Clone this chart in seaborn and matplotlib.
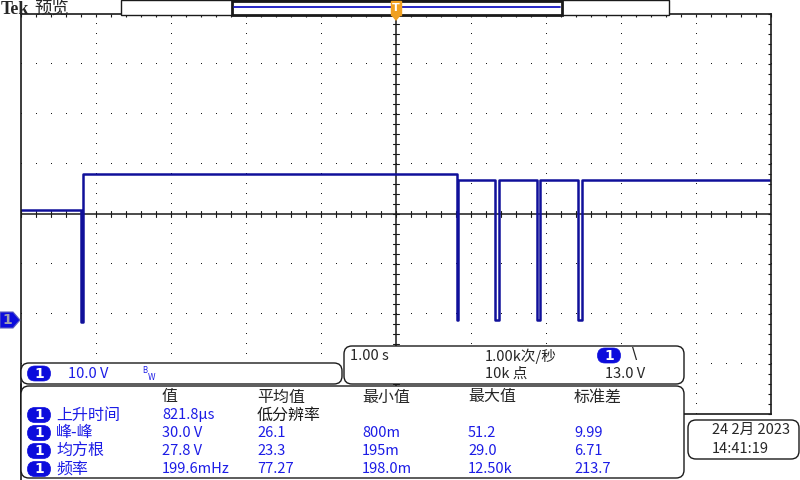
import numpy as np
import matplotlib.pyplot as plt
import seaborn as sns
from matplotlib.patches import FancyBboxPatch, Rectangle, Polygon

sns.set_theme(style="white")
plt.rcParams['font.family'] = ['Noto Sans CJK SC', 'DejaVu Sans']

wave_t = [-5.0, -4.20, -4.20, -4.18, -4.18, 0.815, 0.815, 0.83, 0.83,
          1.325, 1.325, 1.378, 1.378, 1.884, 1.884, 1.925, 1.925,
          2.428, 2.428, 2.485, 2.485, 5.0]
wave_v = [22.0, 22.0, -0.3, -0.3, 29.2, 29.2, 0.0, 0.0, 28.0,
          28.0, 0.0, 0.0, 28.0, 28.0, 0.0, 0.0, 28.0,
          28.0, 0.0, 0.0, 28.0, 28.0]

# scope settings
volts_per_div = 10.0
sec_per_div = 1.0
centre_volts = 21.2   # trace offset: ground sits 2.12 div below centre

# measurement table
meas_headers = ["值", "平均值", "最小值", "最大值", "标准差"]
meas_names = ["上升时间", "峰-峰", "均方根", "频率"]
meas_values = ["821.8μs", "30.0 V", "27.8 V", "199.6mHz"]
meas_mean = ["低分辨率", "26.1", "23.3", "77.27"]
meas_min = ["", "800m", "195m", "198.0m"]
meas_max = ["", "51.2", "29.0", "12.50k"]
meas_std = ["", "9.99", "6.71", "213.7"]

BLUE_TXT = '#1c1ce6'
BADGE = '#0c0cdc'
TRACE = '#10109a'

fig = plt.figure(figsize=(8, 4.8), dpi=100)

# ---- graticule + trace ----
ax = fig.add_axes([21/800, 66/480, 750/800, 400/480])
ax.set_facecolor('white')
ax.set_xlim(-5 * sec_per_div, 5 * sec_per_div)
ax.set_ylim(centre_volts - 4 * volts_per_div, centre_volts + 4 * volts_per_div)

y_lo, y_hi = ax.get_ylim()
# dotted vertical division lines
for k in range(-4, 5):
    if k == 0:
        continue
    ys = np.arange(y_lo, y_hi + 0.01, volts_per_div / 5)
    ax.plot(np.full(len(ys), k * sec_per_div), ys, ',', color='k')
# dotted horizontal division lines
for k in range(-3, 4):
    if k == 0:
        continue
    xs = np.arange(-5, 5.01, sec_per_div / 5)
    ax.plot(xs, np.full(len(xs), centre_volts + k * volts_per_div), ',', color='k')

# solid centre cross with ticks
ax.axhline(centre_volts, color='k', lw=1.1)
ax.axvline(0, color='k', lw=1.1)
for x in np.arange(-5, 5.01, sec_per_div / 5):
    ax.plot([x, x], [centre_volts - 0.6, centre_volts + 0.6], color='k', lw=0.8)
for y in np.arange(y_lo, y_hi + 0.01, volts_per_div / 5):
    ax.plot([-0.04, 0.04], [y, y], color='k', lw=0.8)

sns.lineplot(x=wave_t, y=wave_v, ax=ax, estimator=None, sort=False,
             color=TRACE, lw=1.8)

ax.set_xticks(np.arange(-5, 5.01, 0.2))
ax.set_yticks(np.arange(y_lo, y_hi + 0.01, 2))
ax.tick_params(direction='in', length=2, width=0.8, color='k',
               top=True, right=True, labelbottom=False, labelleft=False)
ax.set_xlabel('')
ax.set_ylabel('')
for s in ax.spines.values():
    s.set_color('k')
    s.set_linewidth(1.2)

# ---- screen overlay (pixel coordinates) ----
ov = fig.add_axes([0, 0, 1, 1])
ov.set_xlim(0, 800)
ov.set_ylim(480, 0)
ov.axis('off')

def box(x0, y0, x1, y1, r=8, lw=1.0):
    ov.add_patch(FancyBboxPatch((x0, y0), x1 - x0, y1 - y0,
                                boxstyle=f"round,pad=0,rounding_size={r}",
                                fc='white', ec='k', lw=lw, zorder=2))

def badge(xc, yc):
    ov.add_patch(FancyBboxPatch((xc - 11.5, yc - 7.5), 23, 15,
                                boxstyle="round,pad=0,rounding_size=7.5",
                                fc=BADGE, ec=BADGE, lw=0.5, zorder=3))
    ov.text(xc, yc, "1", color='white', fontsize=10, fontweight='bold',
            ha='center', va='center', zorder=4, family='DejaVu Sans')

# left border continues through the panels
ov.plot([21, 21], [384, 480], color='k', lw=1.2, zorder=1)

# top bar
ov.text(1, 9, "Tek", fontsize=13, fontweight='bold', va='center', family='Liberation Serif')
ov.text(34, 9, "预览", fontsize=12.5, va='center')
ov.add_patch(Rectangle((121, 0), 548, 15, fc='white', ec='k', lw=1.0))
ov.add_patch(Rectangle((232, 0.5), 330, 14.5, fc='white', ec='k', lw=2.0))
ov.plot([234, 560], [7, 7], color='#1414c0', lw=1.3)

# trigger position marker
ov.add_patch(Rectangle((391, 1), 10, 14, fc='#f0a020', ec='#f0a020', zorder=3))
ov.text(396, 8, "T", color='white', fontsize=8, fontweight='bold', ha='center',
        va='center', zorder=4, family='DejaVu Sans')
ov.add_patch(Polygon([(391, 15), (401, 15), (396, 21)], fc='#f0a020', ec='none', zorder=3))

# channel 1 ground marker
ov.add_patch(Polygon([(0, 312), (13, 312), (20, 320), (13, 328), (0, 328)],
                     fc=BADGE, ec='#6060c0', lw=0.8, zorder=3))
ov.text(7, 320.5, "1", color='#a0a0b0', fontsize=10, fontweight='bold', ha='center',
        va='center', zorder=4, family='DejaVu Sans')

# channel scale box
box(21, 363, 342, 384)
badge(39, 373.5)
ov.text(68, 374, "10.0 V", color=BLUE_TXT, fontsize=10.5, va='center', zorder=4)
ov.text(142, 370.5, "B", color=BLUE_TXT, fontsize=5.5, va='center', zorder=4, family='DejaVu Sans')
ov.text(148, 377.5, "W", color=BLUE_TXT, fontsize=5.5, va='center', zorder=4, family='DejaVu Sans')

# timebase / trigger box
box(344, 346, 684, 384)
ov.text(350, 356, "1.00 s", fontsize=10.5, va='center', zorder=4)
ov.text(485, 356, "1.00k次/秒", fontsize=10.5, va='center', zorder=4)
badge(609, 355.5)
ov.text(632, 355, "\\", fontsize=11, va='center', zorder=4, family='DejaVu Sans')
ov.text(485, 374, "10k 点", fontsize=10.5, va='center', zorder=4)
ov.text(605, 374, "13.0 V", fontsize=10.5, va='center', zorder=4)

# measurement box
box(21, 386, 684, 478)
col_x = [162, 257, 362, 468, 574]
row_y = [415, 433, 451, 469]
for x, h in zip(col_x, meas_headers):
    ov.text(x, 397, h, fontsize=11.5, va='center', zorder=4)
for i, y in enumerate(row_y):
    badge(39, y)
    ov.text(56, y, meas_names[i], color=BLUE_TXT, fontsize=11.5, va='center', zorder=4)
    ov.text(col_x[0], y, meas_values[i], color=BLUE_TXT, fontsize=10.5, va='center', zorder=4)
    mean_col = 'k' if i == 0 else BLUE_TXT
    ov.text(col_x[1], y, meas_mean[i], color=mean_col,
            fontsize=11.5 if i == 0 else 10.5, va='center', zorder=4)
    ov.text(col_x[2], y, meas_min[i], color=BLUE_TXT, fontsize=10.5, va='center', zorder=4)
    ov.text(col_x[3], y, meas_max[i], color=BLUE_TXT, fontsize=10.5, va='center', zorder=4)
    ov.text(col_x[4], y, meas_std[i], color=BLUE_TXT, fontsize=10.5, va='center', zorder=4)

# date box
box(688, 420, 799, 459)
ov.text(712, 430, "24 2月 2023", fontsize=10.5, va='center', zorder=4)
ov.text(712, 449, "14:41:19", fontsize=10.5, va='center', zorder=4)

fig.savefig('out.png', dpi=100)
